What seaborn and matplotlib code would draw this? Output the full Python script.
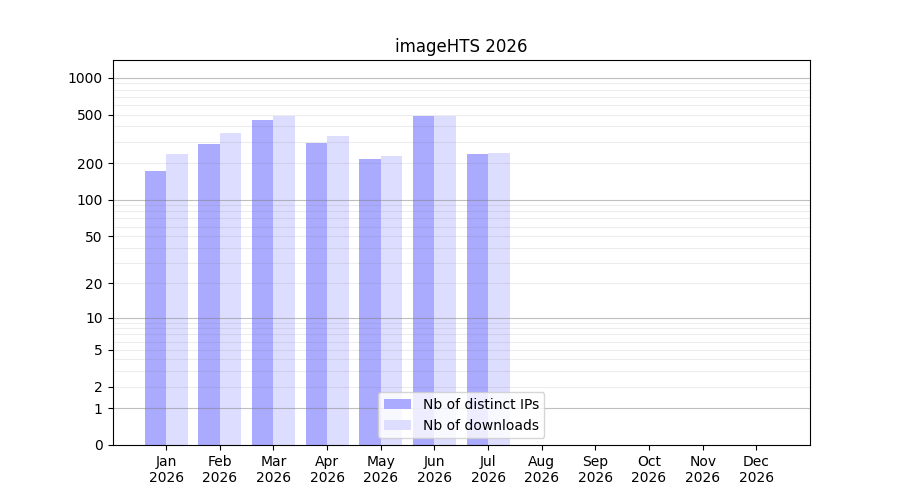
import numpy as np
import pandas as pd
import matplotlib
matplotlib.use("Agg")
import matplotlib.pyplot as plt
import seaborn as sns

months = ["Jan", "Feb", "Mar", "Apr", "May", "Jun",
          "Jul", "Aug", "Sep", "Oct", "Nov", "Dec"]
year = "2026"
distinct_ips = [174, 285, 456, 295, 218, 492, 240, 0, 0, 0, 0, 0]
downloads = [240, 357, 483, 337, 231, 492, 244, 0, 0, 0, 0, 0]
series_names = ["Nb of distinct IPs", "Nb of downloads"]
y_ticks = [0, 1, 2, 5, 10, 20, 50, 100, 200, 500, 1000]


def fwd(x):
    x = np.asarray(x, dtype=float)
    return np.sign(x) * np.log10(1 + np.abs(x))


def inv(y):
    y = np.asarray(y, dtype=float)
    return np.sign(y) * (10 ** np.abs(y) - 1)


labels = [m + "\n" + year for m in months]
df = pd.DataFrame({
    "month": labels * 2,
    "value": distinct_ips + downloads,
    "series": [series_names[0]] * 12 + [series_names[1]] * 12,
})

fig, ax = plt.subplots(figsize=(9, 5), dpi=100)
sns.barplot(data=df, x="month", y="value", hue="series",
            palette=["#aaaaff", "#ddddff"], saturation=1,
            linewidth=0, ax=ax, zorder=1)

ax.set_yscale("function", functions=(fwd, inv))
ax.set_ylim(0, 1400)
ax.set_xlim(-1, 12)
ax.set_yticks(y_ticks)
ax.set_yticklabels([str(t) for t in y_ticks])
ax.minorticks_off()

# grid: decades darker, other integers lighter
for dec in [1, 10, 100]:
    for k in range(2, 10):
        ax.axhline(k * dec, color="#808080", lw=0.8, alpha=0.15, zorder=2)
for dec in [1, 10, 100, 1000]:
    ax.axhline(dec, color="#808080", lw=0.8, alpha=0.5, zorder=2)

ax.set_xlabel("")
ax.set_ylabel("")
ax.set_title("imageHTS " + year)
ax.legend(loc="lower center")

fig.savefig("out.png", dpi=100)
